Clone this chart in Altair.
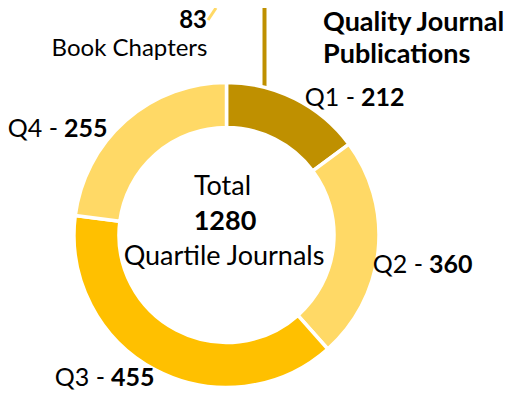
import altair as alt
import pandas as pd

# ---- data ----
categories = ["Q1", "Q2", "Q3", "Q4"]
counts = [212, 360, 455, 255]            # printed labels
arc_share = [190, 302, 494, 294]         # slice sizes as drawn (sum 1280)
colors = ["#BF9000", "#FFD966", "#FFC000", "#FFD966"]
total_label = "1280"
book_chapters = 83

# ---- layout (chart pixel coordinates) ----
OFF = 8
CX, CY = 226.5 - OFF, 235 - OFF
R_OUT, R_IN = 152.5, 107.5
FONT = "Lato"
FS = 24
FS_LAB = 25
FS_BIG = 27

df = pd.DataFrame({"cat": categories, "count": counts, "share": arc_share,
                   "idx": list(range(len(categories)))})

donut = alt.Chart(df).mark_arc(
    radius=R_OUT, radius2=R_IN, stroke="white", strokeWidth=3.5
).encode(
    theta=alt.Theta("share:Q", stack=True),
    color=alt.Color("cat:N", scale=alt.Scale(domain=categories, range=colors), legend=None),
    order=alt.Order("idx:Q"),
    x=alt.value(CX), y=alt.value(CY),
)


def txt(s, x, y, bold=False, align="left", size=FS):
    return alt.Chart(pd.DataFrame({"t": [s]})).mark_text(
        font=FONT, fontSize=size, fontWeight="bold" if bold else "normal",
        align=align, baseline="alphabetic", color="#000000"
    ).encode(x=alt.value(x - OFF), y=alt.value(y - OFF), text="t:N")


label_pos = {  # (x where bold number starts, baseline)
    "Q1": (361, 106),
    "Q2": (429, 273),
    "Q3": (111, 386),
    "Q4": (64, 137),
}

layers = [donut]
for c, n in zip(categories, counts):
    xb, yb = label_pos[c]
    layers.append(txt(f"{c} -", xb - 6, yb, align="right", size=FS_LAB))
    layers.append(txt(str(n), xb, yb, bold=True, size=FS_LAB))

layers += [
    txt("Total", 222.5, 195, align="center", size=FS_BIG),
    txt(total_label, 225, 230, bold=True, align="center", size=FS_BIG),
    txt("Quartile Journals", 224, 265, align="center", size=FS_BIG),
    txt(str(book_chapters), 207, 28, bold=True, align="right"),
    txt("Book Chapters", 129.5, 56, align="center"),
    txt("Quality Journal", 323, 31, bold=True, size=FS_BIG),
    txt("Publications", 323, 63, bold=True, size=FS_BIG),
]

rule_dark = alt.Chart(pd.DataFrame({"a": [0]})).mark_rule(color="#BF9000", strokeWidth=4).encode(
    x=alt.value(264.5 - OFF), y=alt.value(0), y2=alt.value(89 - OFF))
rule_light = alt.Chart(pd.DataFrame({"a": [0]})).mark_rule(color="#FFD966", strokeWidth=3).encode(
    x=alt.value(208 - OFF), y=alt.value(20 - OFF), x2=alt.value(216 - OFF), y2=alt.value(0))

chart = alt.layer(rule_dark, rule_light, *layers).properties(
    width=509, height=384, autosize="none", padding=0
).configure_view(stroke=None)

chart.save("out.html", embed_options={"renderer": "svg", "actions": False})
